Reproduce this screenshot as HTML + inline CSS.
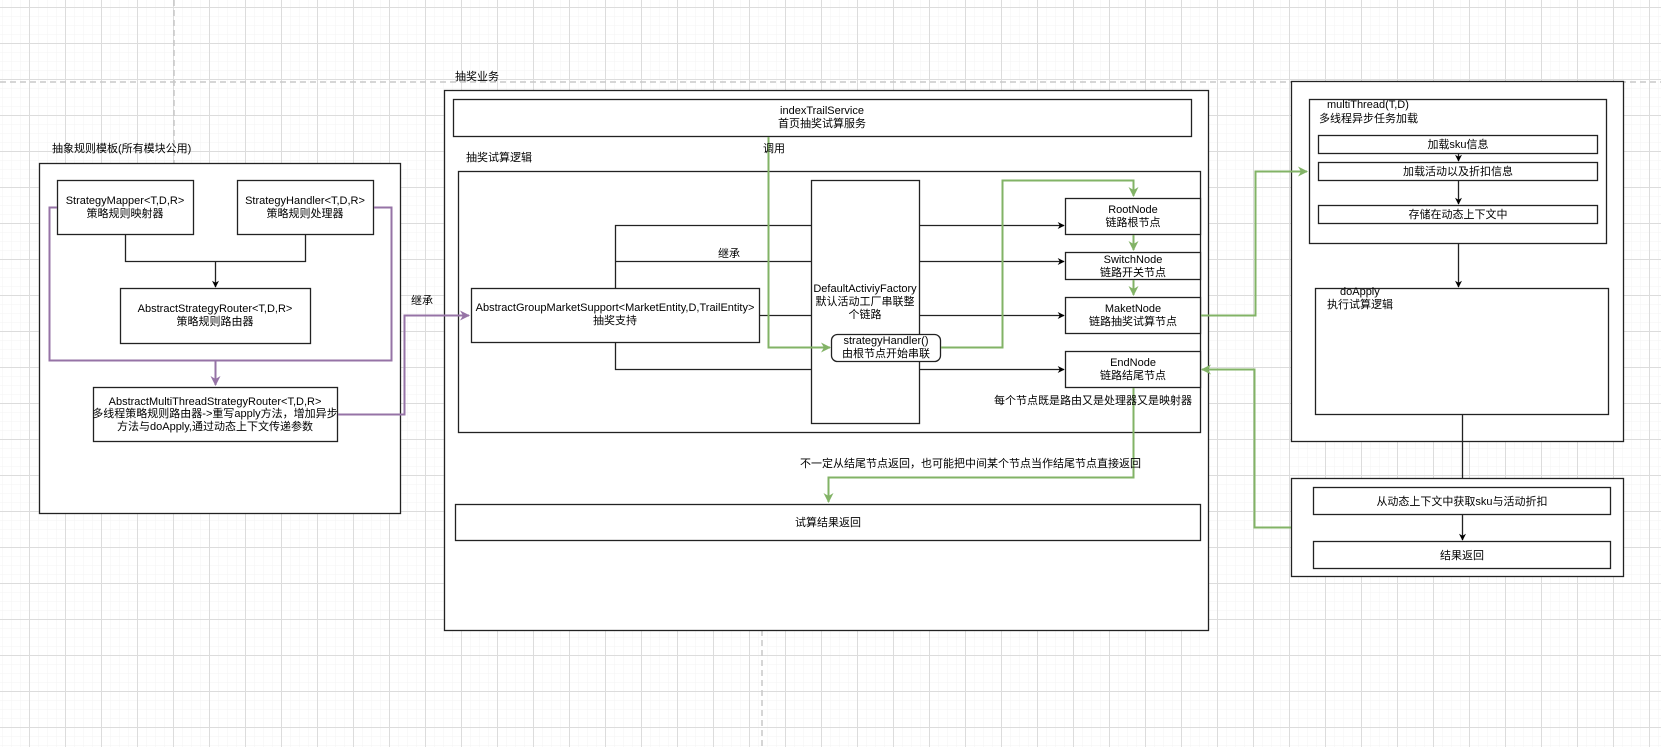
<!DOCTYPE html>
<html><head><meta charset="utf-8"><style>
html,body{margin:0;padding:0;background:#fff}
svg{display:block}
text{font-family:"Liberation Sans","Noto Sans CJK SC",sans-serif;font-size:11px;fill:#000}
</style></head><body>
<svg width="1661" height="747" viewBox="0 0 1661 747" xmlns="http://www.w3.org/2000/svg">
<defs>
<pattern id="mi" x="2" y="7" width="9" height="9" patternUnits="userSpaceOnUse"><path d="M0 0H9M0 0V9" stroke="#f3f3f3" stroke-width="1" fill="none"/></pattern>
<pattern id="ma" x="29" y="7" width="36" height="36" patternUnits="userSpaceOnUse"><path d="M0 0.5H36M0.5 0V36" stroke="#dcdcdc" stroke-width="1" fill="none"/></pattern>
<marker id="ab" viewBox="0 0 10 10" refX="9" refY="5" markerWidth="7" markerHeight="7" orient="auto" markerUnits="userSpaceOnUse"><path d="M0 0L10 5L0 10L3 5z" fill="#000"/></marker>
<marker id="ag" viewBox="0 0 10 10" refX="9" refY="5" markerWidth="10" markerHeight="10" orient="auto" markerUnits="userSpaceOnUse"><path d="M0 0L10 5L0 10L3 5z" fill="#82b366"/></marker>
<marker id="ap" viewBox="0 0 10 10" refX="9" refY="5" markerWidth="10" markerHeight="10" orient="auto" markerUnits="userSpaceOnUse"><path d="M0 0L10 5L0 10L3 5z" fill="#9673a6"/></marker>
</defs>
<rect width="1661" height="747" fill="url(#mi)"/>
<rect width="1661" height="747" fill="url(#ma)"/>
<g stroke="#c8c8c8" stroke-width="1.5" stroke-dasharray="6 4" fill="none">
<path d="M0 82H1661"/><path d="M174 0V163"/><path d="M762 630V747"/>
</g>
<g fill="#fff" stroke="#222" stroke-width="1.3">
<rect x="39.5" y="163.5" width="361" height="350"/>
<rect x="444.5" y="90.5" width="764" height="540"/>
<rect x="1291.5" y="81.5" width="332" height="360"/>
<rect x="1291.5" y="478.5" width="332" height="98"/>
</g>
<g stroke="#222" stroke-width="1.3" fill="#fff">
<rect x="57.5" y="180.5" width="136" height="54"/>
<rect x="237.5" y="180.5" width="136" height="54"/>
<rect x="120.5" y="288.5" width="190" height="55"/>
<rect x="93.5" y="387.5" width="244" height="54"/>
<rect x="453.5" y="99.5" width="738" height="37"/>
<rect x="458.5" y="171.5" width="742" height="261"/>
<rect x="471.5" y="288.5" width="288" height="54"/>
<rect x="811.5" y="180.5" width="108" height="243"/>
<rect x="1065.5" y="198.5" width="135" height="36"/>
<rect x="1065.5" y="252.5" width="135" height="27"/>
<rect x="1065.5" y="297.5" width="135" height="36"/>
<rect x="1065.5" y="351.5" width="135" height="36"/>
<rect x="455.5" y="504.5" width="745" height="36"/>
<rect x="1309.5" y="99.5" width="297" height="144"/>
<rect x="1318.5" y="135.5" width="279" height="18"/>
<rect x="1318.5" y="162.5" width="279" height="18"/>
<rect x="1318.5" y="205.5" width="279" height="18"/>
<rect x="1315.5" y="288.5" width="293" height="126"/>
<rect x="1313.5" y="487.5" width="297" height="27"/>
<rect x="1313.5" y="541.5" width="297" height="27"/>
</g>
<g stroke="#222" stroke-width="1.3" fill="none">
<path d="M125.5 235V261.5H305.5V235"/>
<path d="M215.5 261.5V287" marker-end="url(#ab)"/>
<path d="M615.5 288V225.5H811M615.5 261.5H811M759 315.5H811M615.5 343V369.5H811"/>
<path d="M919 225.5H1064" marker-end="url(#ab)"/>
<path d="M919 261.5H1064" marker-end="url(#ab)"/>
<path d="M919 315.5H1064" marker-end="url(#ab)"/>
<path d="M919 369.5H1064" marker-end="url(#ab)"/>
<path d="M1458.5 153V161" marker-end="url(#ab)"/>
<path d="M1458.5 180V204" marker-end="url(#ab)"/>
<path d="M1458.5 244V287" marker-end="url(#ab)"/>
<path d="M1462.5 415V478"/>
<path d="M1462.5 515V540" marker-end="url(#ab)"/>
</g>
<rect x="831.5" y="334.5" width="109" height="27" rx="6" fill="#fff" stroke="#222" stroke-width="1.3"/>
<g stroke="#9673a6" stroke-width="2" fill="none">
<path d="M57 207.5H49.5V360.5H391.5V207.5H374"/>
<path d="M215.5 360.5V385" marker-end="url(#ap)"/>
<path d="M338 414.5H404.5V315.5H469" marker-end="url(#ap)"/>
</g>
<g stroke="#82b366" stroke-width="2" fill="none">
<path d="M768.5 137V347.5H830" marker-end="url(#ag)"/>
<path d="M941 347.5H1002.5V180.5H1133.5V196" marker-end="url(#ag)"/>
<path d="M1133.5 235V250" marker-end="url(#ag)"/>
<path d="M1133.5 280V295" marker-end="url(#ag)"/>
<path d="M1133.5 388V477.5H828.5V502" marker-end="url(#ag)"/>
<path d="M1201 315.5H1255.5V171.5H1307" marker-end="url(#ag)"/>
<path d="M1291 527.5H1254.5V369.5H1202" marker-end="url(#ag)"/>
</g>
<text x="52" y="152">抽象规则模板(所有模块公用)</text>
<text x="125" y="204" text-anchor="middle">StrategyMapper&lt;T,D,R&gt;</text>
<text x="125" y="217" text-anchor="middle">策略规则映射器</text>
<text x="305" y="204" text-anchor="middle">StrategyHandler&lt;T,D,R&gt;</text>
<text x="305" y="217" text-anchor="middle">策略规则处理器</text>
<text x="215" y="312" text-anchor="middle">AbstractStrategyRouter&lt;T,D,R&gt;</text>
<text x="215" y="325" text-anchor="middle">策略规则路由器</text>
<text x="215" y="405" text-anchor="middle">AbstractMultiThreadStrategyRouter&lt;T,D,R&gt;</text>
<text x="215" y="417" text-anchor="middle">多线程策略规则路由器-&gt;重写apply方法，增加异步</text>
<text x="215" y="430" text-anchor="middle">方法与doApply,通过动态上下文传递参数</text>
<text x="411" y="304">继承</text>
<text x="455" y="80">抽奖业务</text>
<text x="822" y="114" text-anchor="middle">indexTrailService</text>
<text x="822" y="127" text-anchor="middle">首页抽奖试算服务</text>
<text x="763" y="152">调用</text>
<text x="466" y="161">抽奖试算逻辑</text>
<text x="615" y="311" text-anchor="middle">AbstractGroupMarketSupport&lt;MarketEntity,D,TrailEntity&gt;</text>
<text x="615" y="324" text-anchor="middle">抽奖支持</text>
<text x="718" y="257">继承</text>
<text x="865" y="292" text-anchor="middle">DefaultActiviyFactory</text>
<text x="865" y="305" text-anchor="middle">默认活动工厂串联整</text>
<text x="865" y="318" text-anchor="middle">个链路</text>
<text x="886" y="344" text-anchor="middle">strategyHandler()</text>
<text x="886" y="357" text-anchor="middle">由根节点开始串联</text>
<text x="1133" y="213" text-anchor="middle">RootNode</text>
<text x="1133" y="226" text-anchor="middle">链路根节点</text>
<text x="1133" y="263" text-anchor="middle">SwitchNode</text>
<text x="1133" y="276" text-anchor="middle">链路开关节点</text>
<text x="1133" y="312" text-anchor="middle">MaketNode</text>
<text x="1133" y="325" text-anchor="middle">链路抽奖试算节点</text>
<text x="1133" y="366" text-anchor="middle">EndNode</text>
<text x="1133" y="379" text-anchor="middle">链路结尾节点</text>
<text x="994" y="404">每个节点既是路由又是处理器又是映射器</text>
<text x="800" y="467">不一定从结尾节点返回，也可能把中间某个节点当作结尾节点直接返回</text>
<text x="828" y="526" text-anchor="middle">试算结果返回</text>
<text x="1327" y="108">multiThread(T,D)</text>
<text x="1319" y="122">多线程异步任务加载</text>
<text x="1458" y="148" text-anchor="middle">加载sku信息</text>
<text x="1458" y="175" text-anchor="middle">加载活动以及折扣信息</text>
<text x="1458" y="218" text-anchor="middle">存储在动态上下文中</text>
<text x="1340" y="295">doApply</text>
<text x="1327" y="308">执行试算逻辑</text>
<text x="1462" y="505" text-anchor="middle">从动态上下文中获取sku与活动折扣</text>
<text x="1462" y="559" text-anchor="middle">结果返回</text>
</svg>
</body></html>
